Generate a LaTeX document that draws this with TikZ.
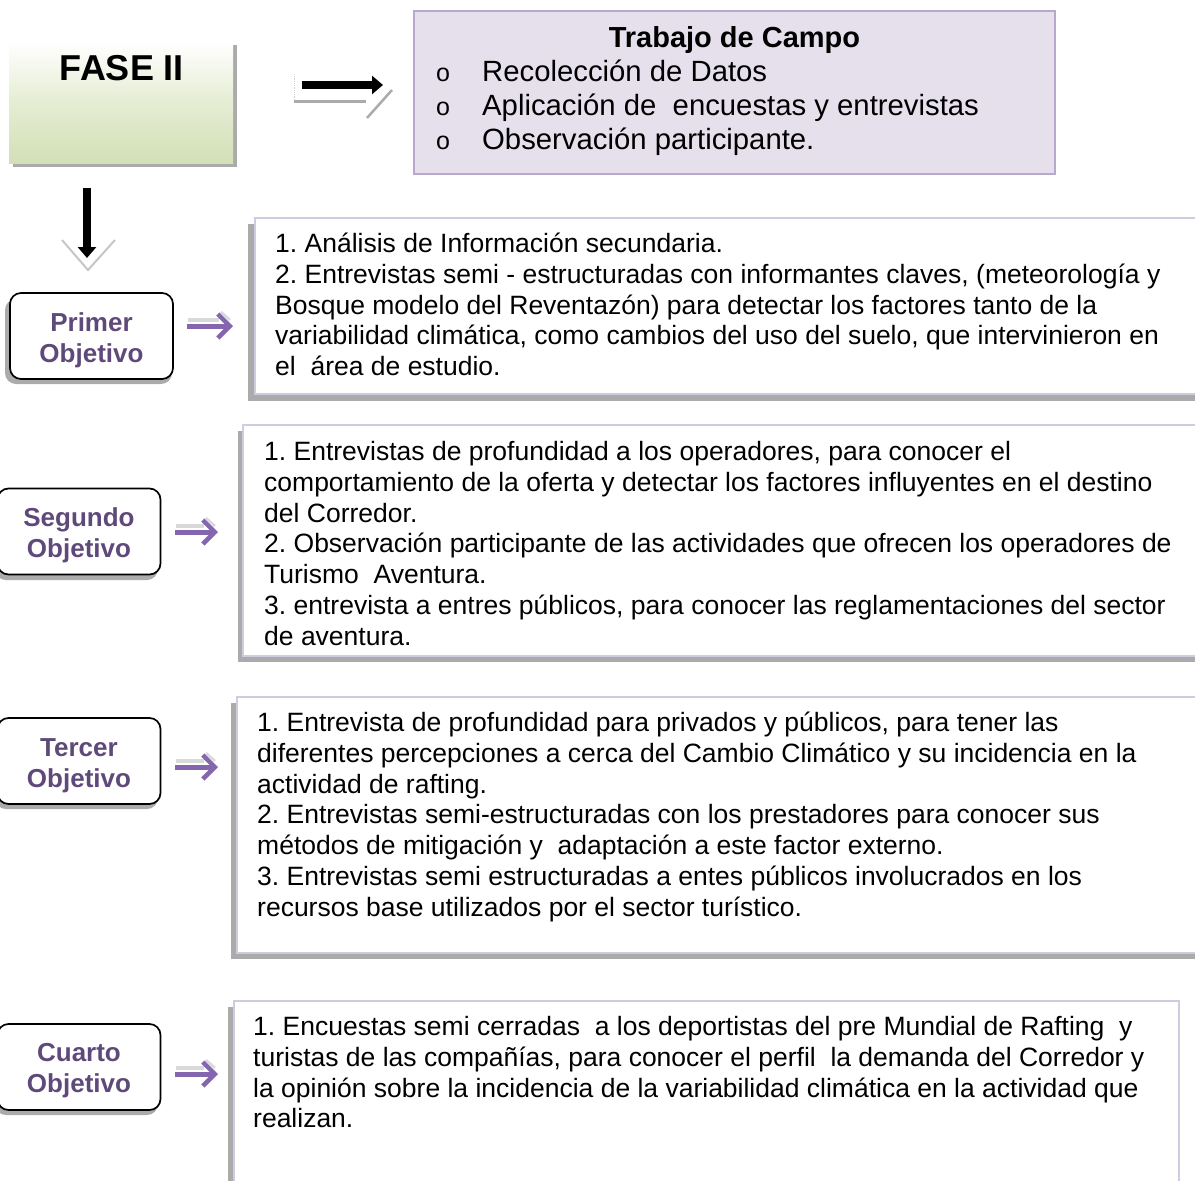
\documentclass[tikz,border=0pt]{standalone}
\usepackage{fontspec}
\setmainfont{Liberation Sans}
\usetikzlibrary{arrows.meta,shadings}
\definecolor{lav}{HTML}{E5E0EC}
\definecolor{lavborder}{HTML}{B8A9CC}
\definecolor{boxborder}{HTML}{D2CAE0}
\definecolor{shadowgray}{HTML}{ABABAB}
\definecolor{objpurple}{HTML}{5F497A}
\definecolor{arrowpurple}{HTML}{8466AE}
\definecolor{fasegreen}{HTML}{D3E0B6}
\frenchspacing
\begin{document}
\begin{tikzpicture}[x=1pt,y=-1pt,
  body/.style={anchor=base west, inner sep=0pt, align=left, font=\fontsize{26.5}{30.75}\selectfont},
  objtext/.style={font=\bfseries\fontsize{26}{31}\selectfont, text=objpurple, align=center, inner sep=0pt},
  objbox/.style={draw=black, line width=1.7pt, rounded corners=11pt, fill=white, minimum width=163pt, minimum height=86pt},
  objshadow/.style={fill=shadowgray, draw=none, rounded corners=11pt},
  shadowfill/.style={fill=shadowgray, draw=none},
  textbox/.style={fill=white, draw=boxborder, line width=1.2pt},
  parrow/.style={draw=arrowpurple, line width=5pt, -{Straight Barb[length=12pt, width=24pt, line width=4.5pt]}},
  pshadow/.style={draw=shadowgray!45, line width=3.5pt},
  blackarrow/.style={draw=black, line width=7.5pt, -{Triangle[length=11pt, width=18pt]}}
]
\useasboundingbox (0,0) rectangle (1195,1181);

% ---------- FASE II ----------
\fill[shadowfill] (13,45) rectangle (237,167);
\shade[top color=white, bottom color=fasegreen, middle color=white!40!fasegreen] (9,42) rectangle (233,163);
\node[font=\bfseries\fontsize{36}{40}\selectfont, anchor=base, inner sep=0pt] (fase) at (122,80) {FASE II};

% ---------- right black arrow ----------
\draw[gray!35, densely dotted, line width=0.8pt] (294,74) -- (294,102);
\draw[shadowgray, line width=3pt] (294,101) -- (366,101);
\draw[shadowgray, line width=2.5pt] (367,118) -- (392,90);
\coordinate (ra1) at (302,85);
\coordinate (ra2) at (383,85);
\draw[blackarrow] (ra1) -- (ra2);

% ---------- Trabajo de Campo ----------
\node[draw=lavborder, fill=lav, line width=1.2pt, minimum width=641pt, minimum height=163pt, inner sep=0pt] (campo) at (734.5,92.5) {};
\node[font=\bfseries\fontsize{29}{34}\selectfont, anchor=base, inner sep=0pt] (campot) at (734.5,47) {Trabajo de Campo};
\foreach \yy/\tt [count=\i] in {81.5/Recolección de Datos, 115.5/Aplicación de~ encuestas y entrevistas, 149.5/Observación participante.}{
  \node[font=\fontsize{25}{30}\selectfont, anchor=base west, inner sep=0pt] (bul\i) at (436,\yy) {o};
  \node[font=\fontsize{29.3}{34}\selectfont, anchor=base west, inner sep=0pt] (item\i) at (482,\yy) {\tt};
}

% ---------- down black arrow ----------
\draw[gray!45, line width=2pt] (62,240) -- (88,270) -- (115,240);
\coordinate (da1) at (87,188);
\coordinate (da2) at (87,258);
\draw[blackarrow] (da1) -- (da2);

% ---------- objective boxes ----------
\fill[objshadow] (5,299) rectangle (172,384);
\node[objbox] (o1) at (91.5,336) {};
\node[objtext] (o1t) at (91.5,340.5) {Primer\\Objetivo};

\fill[objshadow] (-5,494) rectangle (158,580);
\node[objbox] (o2) at (79,531.5) {};
\node[objtext] (o2t) at (79,535.5) {Segundo\\Objetivo};

\fill[objshadow] (-5,724) rectangle (158,809);
\node[objbox] (o3) at (79,761) {};
\node[objtext] (o3t) at (79,765.5) {Tercer\\Objetivo};

\fill[objshadow] (-5,1030) rectangle (158,1115);
\node[objbox] (o4) at (79,1067) {};
\node[objtext] (o4t) at (79,1071) {Cuarto\\Objetivo};

% ---------- purple arrows ----------
\coordinate (p1a) at (187,326); \coordinate (p1b) at (233,326);
\coordinate (p2a) at (175,532); \coordinate (p2b) at (218,532);
\coordinate (p3a) at (175,767); \coordinate (p3b) at (218,767);
\coordinate (p4a) at (175,1074); \coordinate (p4b) at (218,1074);
\foreach \i in {1,2,3,4}{
  \draw[pshadow] ([xshift=1pt,yshift=6pt]p\i a) -- ([xshift=-14pt,yshift=6pt]p\i b);
  \draw[pshadow, line width=2.5pt] ([xshift=-12pt,yshift=14pt]p\i b) -- ([xshift=-3pt,yshift=6pt]p\i b);
  \draw[parrow] (p\i a) -- (p\i b);
}

% ---------- text boxes ----------
\fill[shadowfill] (248,224) rectangle (1200,401);
\draw[textbox] (255,218) rectangle (1200,394);
\node[body] (t1) at (275,375.5) {1. Análisis de Información secundaria.\\
2. Entrevistas semi - estructuradas con informantes claves, (meteorología y\\
Bosque modelo del Reventazón) para detectar los factores tanto de la\\
variabilidad climática, como cambios del uso del suelo, que intervinieron en\\
el~ área de estudio.};

\fill[shadowfill] (238,431) rectangle (1200,662);
\draw[textbox] (243,425) rectangle (1200,656);
\node[body] (t2) at (264,645) {1. Entrevistas de profundidad a los operadores, para conocer el\\
comportamiento de la oferta y detectar los factores influyentes en el destino\\
del Corredor.\\
2. Observación participante de las actividades que ofrecen los operadores de\\
Turismo~ Aventura.\\
3. entrevista a entres públicos, para conocer las reglamentaciones del sector\\
de aventura.};

\fill[shadowfill] (231,703) rectangle (1200,959);
\draw[textbox] (237,697) rectangle (1200,953);
\node[body] (t3) at (257,916) {1. Entrevista de profundidad para privados y públicos, para tener las\\
diferentes percepciones a cerca del Cambio Climático y su incidencia en la\\
actividad de rafting.\\
2. Entrevistas semi-estructuradas con los prestadores para conocer sus\\
métodos de mitigación y~ adaptación a este factor externo.\\
3. Entrevistas semi estructuradas a entes públicos involucrados en los\\
recursos base utilizados por el sector turístico.};

\fill[shadowfill] (228,1007) rectangle (1179,1200);
\draw[textbox] (234,1001) rectangle (1179,1200);
\node[body] (t4) at (253,1127.75) {1. Encuestas semi cerradas~ a los deportistas del pre Mundial de Rafting~ y\\
turistas de las compañías, para conocer el perfil~ la demanda del Corredor y\\
la opinión sobre la incidencia de la variabilidad climática en la actividad que\\
realizan.};
\end{tikzpicture}
\end{document}
